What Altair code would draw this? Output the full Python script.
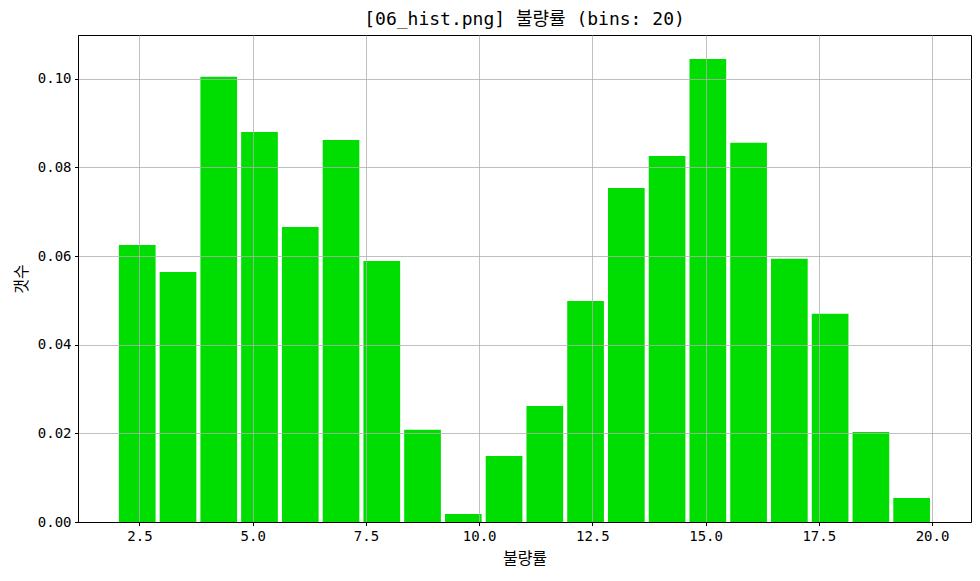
import altair as alt
import pandas as pd

# Histogram bins (start of each bin), bin width 0.9 on [2.0, 20.0]
bin_starts = [2.0, 2.9, 3.8, 4.7, 5.6, 6.5, 7.4, 8.3, 9.2, 10.1,
              11.0, 11.9, 12.8, 13.7, 14.6, 15.5, 16.4, 17.3, 18.2, 19.1]
bin_ends = [2.9, 3.8, 4.7, 5.6, 6.5, 7.4, 8.3, 9.2, 10.1, 11.0,
            11.9, 12.8, 13.7, 14.6, 15.5, 16.4, 17.3, 18.2, 19.1, 20.0]
density = [0.0625, 0.0564, 0.1005, 0.0880, 0.0666, 0.0862, 0.0589, 0.0208, 0.0018, 0.0149,
           0.0262, 0.0499, 0.0754, 0.0826, 0.1045, 0.0856, 0.0594, 0.0470, 0.0203, 0.0054]

x_ticks = [2.5, 5.0, 7.5, 10.0, 12.5, 15.0, 17.5, 20.0]
y_ticks = [0.0, 0.02, 0.04, 0.06, 0.08, 0.10]

df = pd.DataFrame({"start": bin_starts, "end": bin_ends, "density": density})

FONT = "DejaVu Sans Mono, Noto Sans CJK KR"
RWIDTH = 0.9

bars = (
    alt.Chart(df)
    .transform_calculate(
        x0=f"datum.start + (datum.end - datum.start) * {(1 - RWIDTH) / 2}",
        x1=f"datum.end - (datum.end - datum.start) * {(1 - RWIDTH) / 2}",
    )
    .mark_rect(color="#00dd00")
    .encode(
        x=alt.X(
            "x0:Q",
            scale=alt.Scale(domain=[1.142, 20.861], nice=False, zero=False),
            axis=alt.Axis(
                values=x_ticks, format=".1f", title="불량률", zindex=1,
                labelFlush=False,
            ),
        ),
        x2="x1:Q",
        y=alt.Y(
            "density:Q",
            scale=alt.Scale(domain=[0, 0.1099], nice=False),
            axis=alt.Axis(values=y_ticks, format=".2f", title="갯수", zindex=1,
                          labelFlush=False),
        ),
        y2=alt.datum(0),
    )
)

chart = (
    bars.properties(
        width=893,
        height=487,
        title=alt.TitleParams(
            "[06_hist.png] 불량률 (bins: 20)",
            font=FONT, fontSize=18, fontWeight="normal", color="black", offset=6,
        ),
        autosize=alt.AutoSizeParams(type="none"),
        padding={"left": 70, "top": 27, "right": 1, "bottom": 51},
    )
    .configure_view(stroke="black", strokeWidth=1)
    .configure_axis(
        labelFont=FONT, labelFontSize=14, labelColor="black",
        titleFont=FONT, titleFontSize=16, titleFontWeight="normal", titleColor="black",
        domainColor="black", domainWidth=1,
        tickColor="black", tickSize=3.5, tickWidth=1,
        gridColor="#b0b0b0", gridWidth=0.8, grid=True,
        labelPadding=3.5,
    )
    .configure_axisX(titlePadding=7)
    .configure_axisY(titlePadding=8)
)

chart.save("out.html", embed_options={"renderer": "svg", "actions": False})
